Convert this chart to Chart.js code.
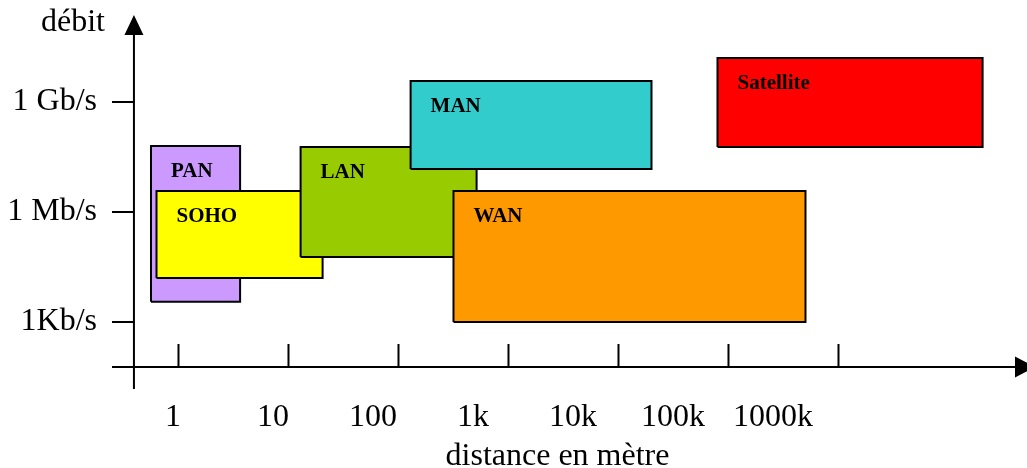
<!DOCTYPE html>
<html>
<head>
<meta charset="utf-8">
<script src="https://cdn.jsdelivr.net/npm/chart.js@4.4.1/dist/chart.umd.min.js"></script>
<style>
  html, body { margin: 0; padding: 0; background: #fff; }
</style>
</head>
<body>
<canvas id="chart" width="1027" height="468"></canvas>
<script>
// network types, later ones are drawn on top
const networks = ['PAN', 'SOHO', 'LAN', 'MAN', 'WAN', 'Satellite'];
// distance covered, log10 of metres
const distFrom = [-0.25, -0.2, 1.11, 2.11, 2.5, 4.9];
const distTo = [0.56, 1.31, 2.71, 4.3, 5.7, 7.31];
// bit rate, log10 of bit/s
const rateFrom = [3.55, 4.2, 4.77, 7.17, 3.0, 7.77];
const rateTo = [7.8, 6.57, 7.77, 9.57, 6.57, 10.2];

const xTickLabels = ['1', '10', '100', '1k', '10k', '100k', '1000k'];
const yTickValues = [3, 6, 9];
const yTickLabels = ['1Kb/s', '1 Mb/s', '1 Gb/s'];

const colors = ['#CC99FF', '#FFFF00', '#99CC00', '#33CCCC', '#FF9900', '#FF0000'];
const FONT = '"Liberation Serif", "Times New Roman", serif';

// where the two axes cross (in data units)
const yAxisAt = -0.405;
const xAxisAt = 1.773;

const datasets = networks.map((name, i) => ({
    label: name,
    data: [
        { x: distFrom[i], y: rateFrom[i] },
        { x: distTo[i], y: rateFrom[i] },
        { x: distTo[i], y: rateTo[i] },
        { x: distFrom[i], y: rateTo[i] },
        { x: distFrom[i], y: rateFrom[i] }
    ],
    showLine: true,
    fill: 'shape',
    backgroundColor: colors[i],
    borderColor: '#000',
    borderWidth: 2,
    pointRadius: 0,
    tension: 0,
    order: networks.length - i,
    xAxisID: 'x',
    yAxisID: 'y'
}));

/* axes with arrows, tick marks and box captions */
const diagramPlugin = {
    id: 'diagram',
    beforeDatasetsDraw(chart) {
        const { ctx, chartArea, scales: { x, y } } = chart;
        const ax = x.getPixelForValue(yAxisAt);
        const ay = y.getPixelForValue(xAxisAt);
        ctx.save();
        ctx.strokeStyle = '#000';
        ctx.fillStyle = '#000';
        ctx.lineWidth = 2;
        ctx.beginPath();
        ctx.moveTo(ax, chartArea.bottom);
        ctx.lineTo(ax, chartArea.top + 20);
        ctx.moveTo(chartArea.left, ay);
        ctx.lineTo(chart.width - 12, ay);
        xTickLabels.forEach((_, i) => {
            const px = x.getPixelForValue(i);
            ctx.moveTo(px, ay);
            ctx.lineTo(px, ay - 23);
        });
        yTickValues.forEach(v => {
            const py = y.getPixelForValue(v);
            ctx.moveTo(chartArea.left, py);
            ctx.lineTo(ax, py);
        });
        ctx.stroke();

        ctx.beginPath();
        ctx.moveTo(ax, chartArea.top);
        ctx.lineTo(ax - 9.5, chartArea.top + 20);
        ctx.lineTo(ax + 9.5, chartArea.top + 20);
        ctx.closePath();
        ctx.moveTo(chart.width + 8, ay);
        ctx.lineTo(chart.width - 12, ay - 10.5);
        ctx.lineTo(chart.width - 12, ay + 10.5);
        ctx.closePath();
        ctx.fill();

        ctx.font = '32px ' + FONT;
        ctx.textAlign = 'right';
        ctx.textBaseline = 'alphabetic';
        ctx.fillText('débit', ax - 29, chartArea.top + 16);
        ctx.restore();
    },
    afterDatasetsDraw(chart) {
        const { ctx, scales: { x, y } } = chart;
        ctx.save();
        ctx.fillStyle = '#000';
        ctx.font = 'bold 21px ' + FONT;
        ctx.textAlign = 'left';
        ctx.textBaseline = 'alphabetic';
        networks.forEach((name, i) => {
            ctx.fillText(name, x.getPixelForValue(distFrom[i]) + 20, y.getPixelForValue(rateTo[i]) + 31);
        });
        ctx.restore();
    }
};

new Chart(document.getElementById('chart'), {
    type: 'scatter',
    data: { datasets: datasets },
    options: {
        responsive: false,
        animation: false,
        devicePixelRatio: 1,
        layout: { padding: { top: 15, right: 24, left: 0, bottom: 0 } },
        plugins: {
            legend: { display: false },
            tooltip: { enabled: false }
        },
        scales: {
            x: {
                type: 'linear',
                display: false,
                min: -0.6045,
                max: 7.4955
            },
            xl: {
                type: 'linear',
                position: 'bottom',
                min: -0.61,
                max: 8.3,
                grid: { display: false, drawTicks: false },
                border: { display: false },
                afterBuildTicks: scale => {
                    scale.ticks = xTickLabels.map((_, i) => ({ value: i }));
                },
                afterFit: scale => {
                    scale.height = 79;
                    scale.paddingLeft = 0;
                    scale.paddingRight = 0;
                },
                ticks: {
                    autoSkip: false,
                    maxRotation: 0,
                    padding: 9,
                    color: '#000',
                    font: { family: FONT, size: 32 },
                    callback: value => xTickLabels[value]
                },
                title: {
                    display: true,
                    text: 'distance en mètre',
                    color: '#000',
                    font: { family: FONT, size: 32, lineHeight: 1 },
                    padding: { top: 0, bottom: -5 }
                }
            },
            y: {
                type: 'linear',
                min: 1.173,
                max: 11.373,
                grid: { display: false, drawTicks: false },
                border: { display: false },
                afterBuildTicks: scale => {
                    scale.ticks = yTickValues.map(v => ({ value: v }));
                },
                afterFit: scale => {
                    scale.width = 112;
                    scale.paddingTop = 0;
                    scale.paddingBottom = 0;
                },
                ticks: {
                    padding: 15,
                    color: '#000',
                    font: { family: FONT, size: 32 },
                    callback: value => yTickLabels[yTickValues.indexOf(value)]
                }
            }
        }
    },
    plugins: [diagramPlugin]
});
</script>
</body>
</html>
